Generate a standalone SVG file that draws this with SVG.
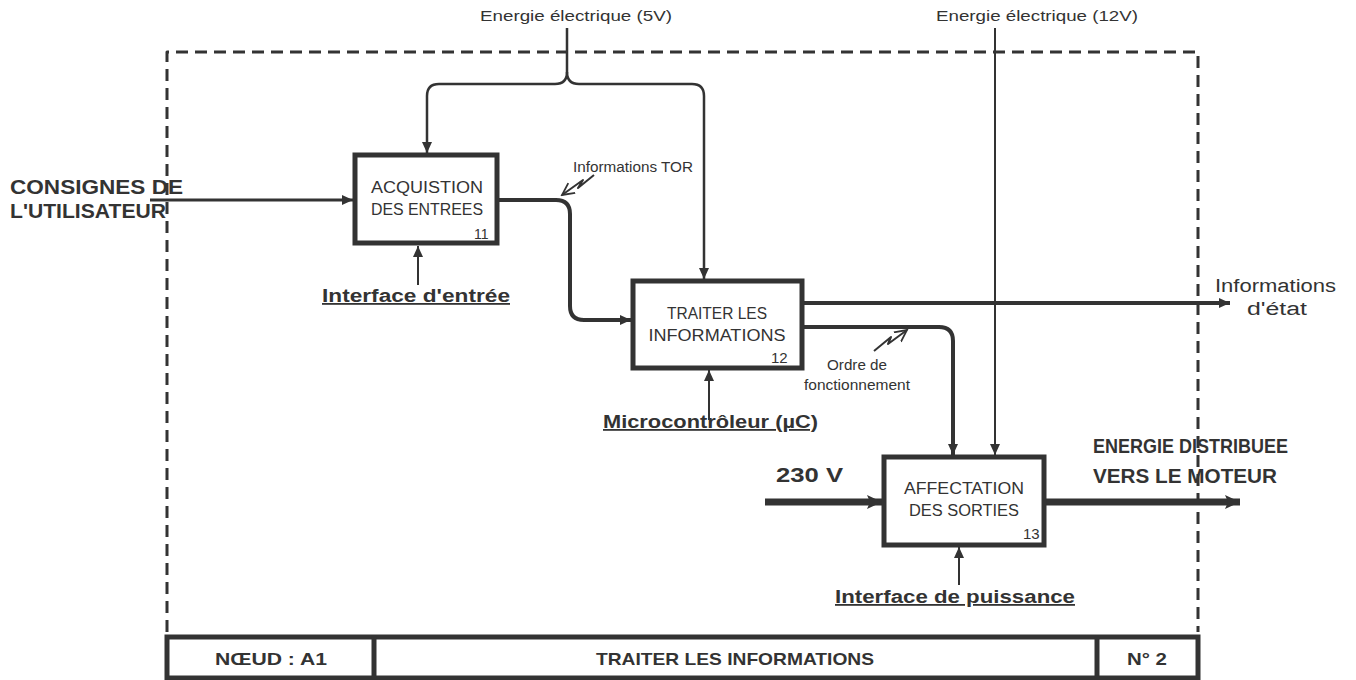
<svg xmlns="http://www.w3.org/2000/svg" width="1356" height="680" viewBox="0 0 1356 680">
<defs>
<style>
.ln{stroke:#333;fill:none;stroke-linejoin:round}
.box{stroke:#333;fill:#fff;stroke-width:5}
text{fill:#333;font-family:"Liberation Sans",Arial,sans-serif}
.b{font-weight:bold}
.u{text-decoration:underline}
.bx{font-size:16px}
.sm{font-size:14px}
</style>
<marker id="a" markerUnits="userSpaceOnUse" markerWidth="12" markerHeight="10" refX="11" refY="5" orient="auto">
<path d="M0,0 L11,5 L0,10 Z" fill="#333"/>
</marker>
<marker id="ab" markerUnits="userSpaceOnUse" markerWidth="16" markerHeight="16" refX="15" refY="8" orient="auto">
<path d="M0,1 L15,8 L0,15 L3,8 Z" fill="#333"/>
</marker>
<marker id="ao" markerUnits="userSpaceOnUse" markerWidth="14" markerHeight="14" refX="12" refY="7" orient="auto">
<path d="M0,1 L12,7 L0,13" fill="none" stroke="#333" stroke-width="1.8"/>
</marker>
</defs>
<rect width="1356" height="680" fill="#fff"/>

<g id="frame">
<path class="ln" d="M167,632 V52 H1198 V632" stroke-width="3" stroke-dasharray="12 7"/>
</g>

<g id="connectors">
<path class="ln" d="M150,200 H353" stroke-width="3" marker-end="url(#a)"/>
<path class="ln" d="M567,28 V72 Q567,84 555,84 H439 Q427,84 427,96 V153" stroke-width="2.5" marker-end="url(#a)"/>
<path class="ln" d="M567,72 Q567,84 579,84 H692 Q704,84 704,96 V279" stroke-width="2.5" marker-end="url(#a)"/>
<path class="ln" d="M497,200 H556 Q570,200 570,214 V306 Q570,320 584,320 H631" stroke-width="4" marker-end="url(#a)"/>
<path class="ln" d="M418,285 V246" stroke-width="2" marker-end="url(#a)"/>
<path class="ln" d="M802,303 H1230" stroke-width="4" marker-end="url(#a)"/>
<path class="ln" d="M802,327 H939 Q953,327 953,341 V455" stroke-width="4" marker-end="url(#a)"/>
<path class="ln" d="M995,28 V455" stroke-width="2" marker-end="url(#a)"/>
<path class="ln" d="M709,420 V370" stroke-width="2" marker-end="url(#a)"/>
<path class="ln" d="M959,585 V547" stroke-width="2" marker-end="url(#a)"/>
<path class="ln" d="M765,502 H882" stroke-width="7" marker-end="url(#ab)"/>
<path class="ln" d="M1044,502 H1240" stroke-width="7" marker-end="url(#ab)"/>
<path class="ln" d="M594,175 L578,188 L583,180 L562,195" stroke-width="2" marker-end="url(#ao)"/>
<path class="ln" d="M874,351 L891,337 L888,344 L907,330" stroke-width="2" marker-end="url(#ao)"/>
</g>

<g id="labels">
<text x="576" y="21" font-size="15" text-anchor="middle" textLength="192" lengthAdjust="spacingAndGlyphs">Energie électrique (5V)</text>
<text x="1037" y="21" font-size="15" text-anchor="middle" textLength="202" lengthAdjust="spacingAndGlyphs">Energie électrique (12V)</text>
<text class="b" x="10" y="194" font-size="20" textLength="173" lengthAdjust="spacingAndGlyphs">CONSIGNES DE</text>
<text class="b" x="10" y="218" font-size="20" textLength="156" lengthAdjust="spacingAndGlyphs">L'UTILISATEUR</text>
<text class="sm" x="573" y="172" textLength="120" lengthAdjust="spacingAndGlyphs">Informations TOR</text>
<text class="b u" x="322" y="302" font-size="18" textLength="188" lengthAdjust="spacingAndGlyphs">Interface d'entrée</text>
<text x="1215" y="292" font-size="18" textLength="121" lengthAdjust="spacingAndGlyphs">Informations</text>
<text x="1247" y="315" font-size="18" textLength="60" lengthAdjust="spacingAndGlyphs">d'état</text>
<text class="sm" x="857" y="370" text-anchor="middle" textLength="60" lengthAdjust="spacingAndGlyphs">Ordre de</text>
<text class="sm" x="857" y="390" text-anchor="middle" textLength="106" lengthAdjust="spacingAndGlyphs">fonctionnement</text>
<text class="b u" x="603" y="428" font-size="18" textLength="215" lengthAdjust="spacingAndGlyphs">Microcontrôleur (µC)</text>
<text class="b" x="776" y="482" font-size="20" textLength="67" lengthAdjust="spacingAndGlyphs">230 V</text>
<text class="b" x="1093" y="453" font-size="20" textLength="195" lengthAdjust="spacingAndGlyphs">ENERGIE DISTRIBUEE</text>
<text class="b" x="1093" y="483" font-size="20" textLength="184" lengthAdjust="spacingAndGlyphs">VERS LE MOTEUR</text>
<text class="b u" x="835" y="603" font-size="18" textLength="240" lengthAdjust="spacingAndGlyphs">Interface de puissance</text>
</g>

<g id="n11">
<rect class="box" x="355" y="155" width="142" height="88"/>
<text class="bx" x="427" y="193" text-anchor="middle" textLength="112" lengthAdjust="spacingAndGlyphs">ACQUISTION</text>
<text class="bx" x="427" y="215" text-anchor="middle" textLength="112" lengthAdjust="spacingAndGlyphs">DES ENTREES</text>
<text x="474" y="239" font-size="14">11</text>
</g>

<g id="n12">
<rect class="box" x="633" y="281" width="169" height="87"/>
<text class="bx" x="717" y="319" text-anchor="middle" textLength="100" lengthAdjust="spacingAndGlyphs">TRAITER LES</text>
<text class="bx" x="717" y="341" text-anchor="middle" textLength="137" lengthAdjust="spacingAndGlyphs">INFORMATIONS</text>
<text x="771" y="363" font-size="15">12</text>
</g>

<g id="n13">
<rect class="box" x="884" y="457" width="160" height="88"/>
<text class="bx" x="964" y="494" text-anchor="middle" textLength="120" lengthAdjust="spacingAndGlyphs">AFFECTATION</text>
<text class="bx" x="964" y="516" text-anchor="middle" textLength="110" lengthAdjust="spacingAndGlyphs">DES SORTIES</text>
<text x="1023" y="539" font-size="15">13</text>
</g>

<g id="titlebar">
<rect x="167" y="637" width="1031" height="41" fill="#fff" stroke="#333" stroke-width="5"/>
<path class="ln" d="M374,637 V678 M1097,637 V678" stroke-width="5"/>
<text class="b" x="271" y="665" font-size="17" text-anchor="middle" textLength="112" lengthAdjust="spacingAndGlyphs">NŒUD : A1</text>
<text class="b" x="735" y="665" font-size="17" text-anchor="middle" textLength="278" lengthAdjust="spacingAndGlyphs">TRAITER LES INFORMATIONS</text>
<text class="b" x="1147" y="665" font-size="17" text-anchor="middle" textLength="40" lengthAdjust="spacingAndGlyphs">N° 2</text>
</g>
</svg>
